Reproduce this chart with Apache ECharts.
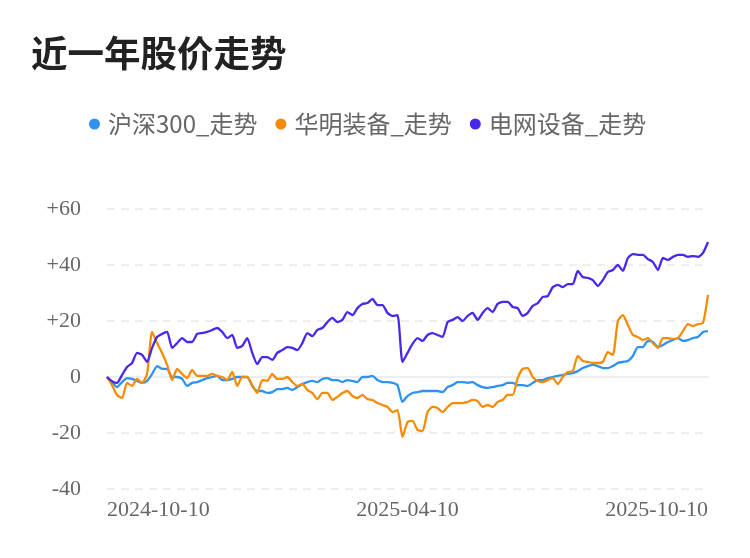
<!DOCTYPE html>
<html>
<head>
<meta charset="utf-8">
<script src="https://cdn.jsdelivr.net/npm/echarts@6/dist/echarts.min.js"></script>
<style>
html,body{margin:0;padding:0;background:#fff;}
#main{width:750px;height:558px;}
</style>
</head>
<body>
<div id="main"></div>
<script>
var seriesNames = ['沪深300_走势', '华明装备_走势', '电网设备_走势'];
var xTickLabels = ['2024-10-10', '2025-04-10', '2025-10-10'];

var hs300 = [0,-1.8,-3.6,-1.8,-0.4,-0.7,-1.4,-2.1,-1.4,1.1,3.9,2.9,2.9,0,0,-0.7,-3.2,-2.1,-1.8,-1.1,
-0.4,0,0.4,-1.1,-1.1,-0.7,0,0,0,-3.2,-5.0,-5.0,-5.7,-5.4,-4.3,-4.3,-3.9,-4.6,-3.6,-2.5,
-1.8,-1.4,-1.8,-0.7,-0.4,-1.1,-1.1,-1.8,-1.1,-1.4,-1.8,0,0,0.4,-1.1,-1.8,-1.8,-2.1,-2.9,-8.9,
-6.8,-5.7,-5.4,-5.0,-5.0,-5.0,-5.0,-5.4,-3.6,-2.9,-1.8,-1.8,-2.1,-1.8,-2.9,-3.6,-3.9,-3.6,-3.2,-2.9,
-2.1,-2.1,-2.9,-2.9,-3.2,-2.1,-1.1,-1.1,-0.4,0,0.4,0.7,1.1,1.4,2.1,3.2,3.9,4.3,3.9,3.2,
3.2,3.9,5.0,5.4,5.7,7.5,10.7,10.7,12.9,12.5,10.7,11.4,12.5,13.2,13.9,12.9,13.2,13.9,14.3,16.1,16.4];

var huaming = [0,-2.9,-6.4,-7.5,-2.1,-3.2,-0.7,-2.1,1.1,16.1,12.1,8.6,4.3,-1.1,2.9,1.1,-0.4,2.5,0.4,0.4,
0.4,1.1,0.4,0,-1.1,1.8,-3.2,0,0,-2.9,-5.7,-1.1,-1.4,1.1,-0.7,-0.7,0,-1.8,-3.2,-2.5,
-4.6,-5.7,-7.9,-5.7,-5.7,-8.2,-7.1,-5.7,-5.0,-6.8,-7.5,-6.4,-7.9,-8.2,-9.3,-10.0,-10.7,-12.5,-11.8,-21.4,
-16.1,-15.7,-18.9,-19.3,-12.5,-10.7,-11.1,-12.5,-10.7,-9.3,-9.3,-9.3,-8.9,-8.2,-8.6,-10.7,-10.0,-10.7,-8.9,-8.2,
-6.4,-6.4,-0.4,2.9,3.2,0,-1.4,-1.8,-1.1,-0.4,-2.5,0,1.8,2.1,7.5,5.7,5.4,5.0,5.0,5.4,
8.9,7.9,20.0,22.1,18.6,15.0,14.3,13.2,13.9,12.1,10.4,13.9,13.9,13.6,13.9,16.4,18.9,18.2,18.9,19.3,29.3];

var gridEquip = [0,-1.5,-2.1,0.7,3.6,5.0,8.6,7.9,5.4,10.4,14.3,15.4,16.1,10.4,12.1,13.9,12.5,12.5,15.4,15.7,
16.1,16.8,17.5,16.1,13.9,15.0,10.4,11.1,13.9,8.6,4.6,7.1,7.1,6.1,8.6,9.6,10.7,10.4,9.6,12.1,
15.7,14.6,16.8,17.5,19.6,21.1,19.6,20.4,23.2,22.1,24.6,26.1,26.4,27.9,25.7,25.7,22.9,21.8,22.1,5.4,
8.6,11.8,13.9,12.9,15.0,15.7,15.0,14.3,19.6,20.4,21.4,20.0,21.8,22.9,20.4,22.9,24.6,23.2,26.1,26.8,
26.8,25.0,24.6,21.8,22.9,25.4,26.4,28.6,28.9,32.1,32.9,32.1,33.2,33.2,37.9,35.7,35.4,34.6,32.5,34.6,
37.5,38.2,40.0,37.9,42.5,43.9,43.6,43.6,42.1,41.1,38.2,42.5,41.8,42.9,43.6,43.6,42.9,43.2,42.9,44.3,48.2];

var colors = ['#2E93F0', '#F68C06', '#4A26EE'];

function toPairs(arr){ return arr.map(function(v,i){ return [i, v]; }); }
var lastIdx = hs300.length - 1;

var chart = echarts.init(document.getElementById('main'), null, {renderer:'canvas'});
chart.setOption({
  animation: false,
  color: colors,
  title: {
    text: '近一年股价走势',
    left: 26, top: 30,
    textStyle: {fontSize: 36.5, fontWeight: 'bold', color: '#222', fontFamily: 'Noto Sans CJK SC'}
  },
  legend: {
    data: seriesNames,
    left: 84, top: 107,
    icon: 'circle', itemWidth: 11, itemHeight: 11, itemGap: 18,
    textStyle: {fontSize: 24, color: '#666', fontFamily: 'Noto Sans CJK SC', padding: [0, 0, 0, 3]}
  },
  grid: {left: 107, right: 42, top: 209, bottom: 69, containLabel: false},
  xAxis: {
    type: 'value', min: 0, max: lastIdx, interval: lastIdx / 2,
    axisLine: {show: true, lineStyle: {color: '#eeeeee', width: 2}},
    axisTick: {show: false},
    splitLine: {show: false},
    axisLabel: {
      margin: 10, fontSize: 22, color: '#666', fontFamily: 'Liberation Serif',
      alignMinLabel: 'left', alignMaxLabel: 'right',
      formatter: function(v){ return xTickLabels[Math.round(v / (lastIdx / 2))]; }
    }
  },
  yAxis: {
    type: 'value', min: -40, max: 60, interval: 20,
    axisLine: {show: false}, axisTick: {show: false},
    splitLine: {show: true, lineStyle: {color: '#eeeeee', type: [8, 6], width: 2}},
    axisLabel: {
      margin: 26, fontSize: 22, color: '#666', fontFamily: 'Liberation Serif',
      formatter: function(v){ return v > 0 ? '+' + v : String(v); }
    }
  },
  series: [
    {name: seriesNames[0], type: 'line', data: toPairs(hs300), showSymbol: false, smooth: 0.2, lineStyle: {width: 2.3}},
    {name: seriesNames[1], type: 'line', data: toPairs(huaming), showSymbol: false, smooth: 0.2, lineStyle: {width: 2.3}},
    {name: seriesNames[2], type: 'line', data: toPairs(gridEquip), showSymbol: false, smooth: 0.2, lineStyle: {width: 2.3}}
  ]
});
</script>
</body>
</html>
